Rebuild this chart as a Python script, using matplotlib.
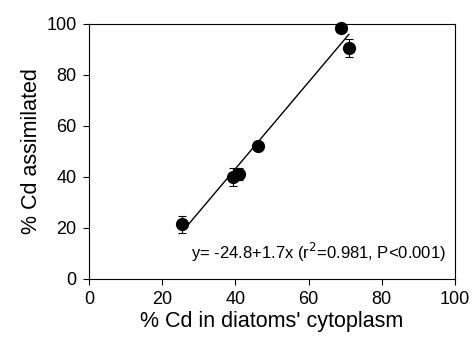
import numpy as np
import matplotlib
matplotlib.use('Agg')
from matplotlib import pyplot as plt

plt.rcParams['font.family'] = ['Liberation Sans', 'DejaVu Sans']

# % Cd in diatoms' cytoplasm vs % Cd assimilated
cyto = [25.5, 39.3, 41.1, 46.3, 68.8, 71.0]
assim = [21.4, 40.1, 41.2, 52.2, 98.3, 90.5]
cyto_err = [0.0, 0.8, 0.8, 0.5, 1.2, 0.5]
assim_err = [3.4, 3.5, 2.5, 1.5, 1.0, 3.5]

# regression fit
a, b = -24.8, 1.7
fit_x = np.array([min(cyto) + 0.5, max(cyto)])

fig = plt.figure(figsize=(4.73, 3.47), dpi=100)
ax = fig.add_axes([0.188, 0.196, 0.774, 0.735])

ax.plot(fit_x, a + b * fit_x, 'k-', lw=1.0)
ax.errorbar(cyto, assim, xerr=cyto_err, yerr=assim_err, fmt='o', color='k',
            ms=8.5, elinewidth=0.8, capsize=3, capthick=0.8, clip_on=False, zorder=3)

ax.text(0.975, 0.06, 'y= -24.8+1.7x (r$^2$=0.981, P<0.001)', transform=ax.transAxes,
        ha='right', va='bottom', fontsize=12)

ax.set_xlim(0, 100)
ax.set_ylim(0, 100)
ax.set_xticks(range(0, 101, 20))
ax.set_yticks(range(0, 101, 20))
ax.tick_params(direction='out', length=4, width=0.8, labelsize=13, pad=5)
for s in ax.spines.values():
    s.set_linewidth(0.8)
ax.set_xlabel("% Cd in diatoms' cytoplasm", fontsize=15.5, labelpad=2)
ax.set_ylabel('% Cd assimilated', fontsize=15.5, labelpad=3)

plt.savefig('out.png', dpi=100)
